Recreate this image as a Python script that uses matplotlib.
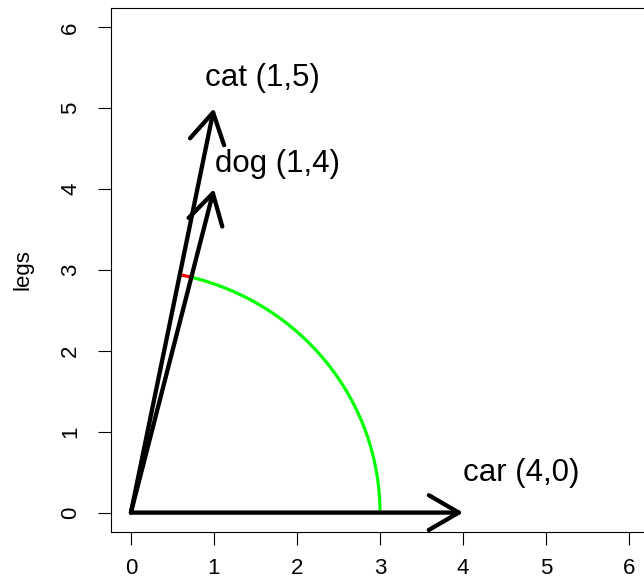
import numpy as np
import matplotlib
matplotlib.use("Agg")
import matplotlib.pyplot as plt
from matplotlib.patches import FancyArrowPatch, Arc, ArrowStyle

# vectors and their labels
names = ["cat", "dog", "car"]
vec_x = [1, 1, 4]
vec_y = [5, 4, 0]
label_x = [1.59, 1.77, 4.70]
label_y = [5.37, 4.31, 0.49]
ticks = [0, 1, 2, 3, 4, 5, 6]
arc_radius = 3


def main():
    plt.rcParams["font.family"] = ["Liberation Sans", "DejaVu Sans"]
    fig = plt.figure(figsize=(6.44, 5.83), dpi=100)
    ax = fig.add_axes([111 / 644, 51 / 583, 538 / 644, 524 / 583])

    ax.set_xlim(-0.24, 6.24)
    ax.set_ylim(-0.24, 6.24)
    ax.set_xticks(ticks)
    ax.set_yticks(ticks)
    ax.tick_params(length=9.5, width=0.8, labelsize=16)
    ax.tick_params(axis="x", pad=9)
    ax.tick_params(axis="y", pad=12)
    for lab in ax.get_yticklabels():
        lab.set_rotation(90)
        lab.set_va("center")
    for s in ax.spines.values():
        s.set_linewidth(0.8)
    ax.set_ylabel("legs", fontsize=16, labelpad=19)

    # angle arcs: car -> dog in green, dog -> cat in red
    ang = np.degrees(np.arctan2(vec_y, vec_x))
    ax.add_patch(Arc((0, 0), 2 * arc_radius, 2 * arc_radius, theta1=ang[2], theta2=ang[1],
                     color="#00ff00", lw=2.3))
    ax.add_patch(Arc((0, 0), 2 * arc_radius, 2 * arc_radius, theta1=ang[1], theta2=ang[0],
                     color="#ff0000", lw=2.3))

    style = ArrowStyle("->", head_length=21.5, head_width=12.5)
    for n, x, y, lx, ly in zip(names, vec_x, vec_y, label_x, label_y):
        arr = FancyArrowPatch((0, 0), (x, y), arrowstyle=style, mutation_scale=1,
                              shrinkA=0, shrinkB=0, lw=3.1, color="black",
                              capstyle="round", joinstyle="round")
        ax.add_patch(arr)
        ax.text(lx, ly, f"{n} ({x},{y})", fontsize=22.5, ha="center", va="center")

    fig.savefig("out.png", dpi=100)


if __name__ == "__main__":
    main()
